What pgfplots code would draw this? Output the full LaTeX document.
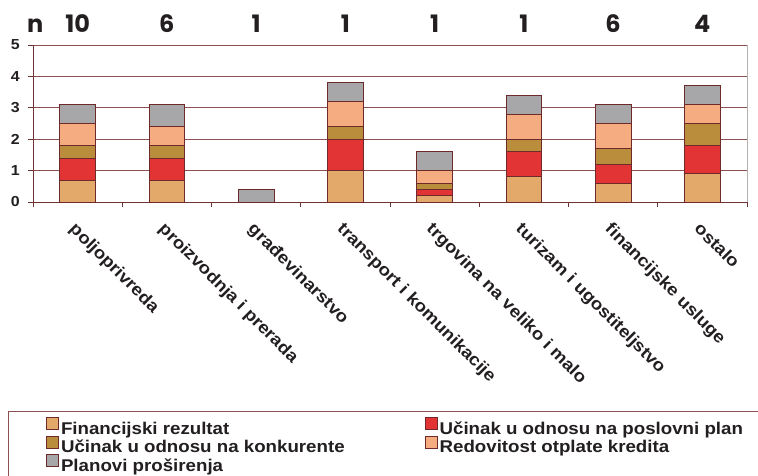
\documentclass[border=0pt]{standalone}
\usepackage{pgfplots}
\pgfplotsset{compat=1.18}
\usepackage{pgfplotstable}
\usepackage{fontspec}
\setmainfont{Liberation Sans}[FakeStretch=1.1]
\newfontfamily\numfont{Poppins}
\definecolor{cfin}{HTML}{E2A96B}
\definecolor{cposl}{HTML}{E23434}
\definecolor{ckonk}{HTML}{B98D3B}
\definecolor{cred}{HTML}{F5AC80}
\definecolor{cplan}{HTML}{A7A7A9}
\definecolor{cedge}{HTML}{6E2A2A}
\definecolor{cgrid}{HTML}{8C5050}
\definecolor{caxis}{HTML}{6E3434}
\definecolor{ctext}{HTML}{231F20}

\pgfplotstableread{
x fin posl konk red plan
0 0.7 0.7 0.4 0.7 0.6
1 0.7 0.7 0.4 0.6 0.7
2 0   0   0   0   0.4
3 1.0 1.0 0.4 0.8 0.6
4 0.2 0.2 0.2 0.4 0.6
5 0.8 0.8 0.4 0.8 0.6
6 0.6 0.6 0.5 0.8 0.6
7 0.9 0.9 0.7 0.6 0.6
}\data

\begin{document}
\begin{tikzpicture}
\useasboundingbox (-33pt,-274pt) rectangle (725pt,202pt);
\begin{axis}[
  scale only axis, width=714pt, height=157pt,
  clip=false,
  ybar stacked, bar width=0.4,
  xmin=-0.5, xmax=7.5, ymin=0, ymax=5,
  axis lines=left, axis line style={-, draw=caxis, line width=0.8pt},
  xtick={0,...,7},
  xticklabels={poljoprivreda, proizvodnja i prerada, građevinarstvo, transport i komunikacije, trgovina na veliko i malo, turizam i ugostiteljstvo, financijske usluge, ostalo},
  minor xtick={-0.5,0.5,...,7.5},
  every major x tick/.append style={opacity=0},
  ytick={0,...,5},
  /pgf/number format/assume math mode=true,
  tick align=outside, major tick length=5pt, minor tick length=5pt,
  tick style={draw=caxis, line width=0.8pt},
  ymajorgrids, grid style={draw=cgrid, line width=0.8pt},
  xticklabel style={font=\bfseries\fontsize{17}{19}\selectfont, text=ctext, rotate=-45, anchor=north west, inner sep=0pt},
  xticklabel shift=14pt,
  yticklabel style={font=\bfseries\fontsize{14.5}{16}\selectfont, text=ctext, inner sep=0pt, xshift=-8pt},
  every axis plot/.append style={draw=cedge, line width=0.8pt},
  legend columns=2,
  legend cell align=left,
  legend image code/.code={\draw[#1, line width=0.6pt] (0pt,-1pt) rectangle (12pt,11pt);},
  legend style={at={(-0.035,-1.331)}, anchor=north west, draw=cgrid, line width=0.8pt,
    inner xsep=38pt, inner ysep=6pt, font=\bfseries\fontsize{17}{19}\selectfont, text=ctext,
    row sep=-2pt},
]
\addplot[fill=cfin, draw=cedge] table[x=x, y=fin] {\data};
\addlegendentry{\makebox[362pt][l]{Financijski rezultat}}
\addplot[fill=cposl, draw=cedge] table[x=x, y=posl] {\data};
\addlegendentry{\makebox[340pt][l]{Učinak u odnosu na poslovni plan}}
\addplot[fill=ckonk, draw=cedge] table[x=x, y=konk] {\data};
\addlegendentry{Učinak u odnosu na konkurente}
\addplot[fill=cred, draw=cedge] table[x=x, y=red] {\data};
\addlegendentry{Redovitost otplate kredita}
\addplot[fill=cplan, draw=cedge] table[x=x, y=plan] {\data};
\addlegendentry{Planovi proširenja}
\draw[draw=gray!60, line width=0.8pt] (rel axis cs:1,0) -- (rel axis cs:1,1);
\foreach \xx/\nn in {0/10,1/6,2/1,3/1,4/1,5/1,6/6,7/4}{
  \edef\tmp{\noexpand\node[font=\noexpand\numfont\noexpand\bfseries\noexpand\fontsize{24}{24}\noexpand\selectfont, text=ctext, anchor=base, yshift=13pt] at (axis cs:\xx,5) {\nn};}
  \tmp
}
\node[font=\numfont\bfseries\fontsize{24}{24}\selectfont, text=ctext, anchor=base, yshift=13pt] at (rel axis cs:0.003,1) {n};
\end{axis}
\end{tikzpicture}
\end{document}
